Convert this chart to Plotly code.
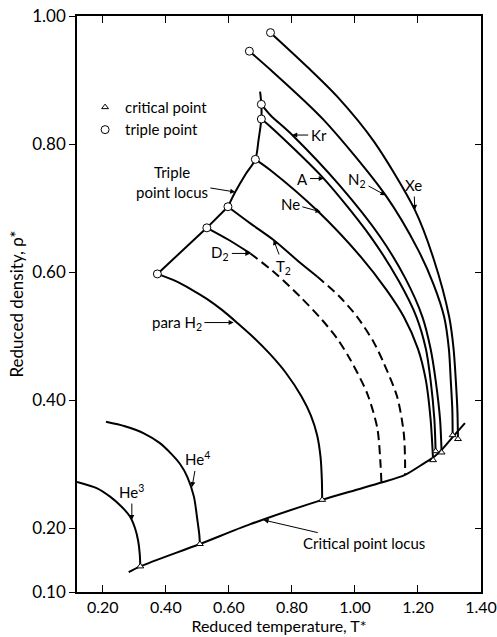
import plotly.graph_objects as go

# ---------------- data (reduced temperature T*, reduced density rho*) ----------------
he3_T = [0.118, 0.182, 0.223, 0.258, 0.286, 0.302, 0.312, 0.317, 0.319]
he3_rho = [0.272, 0.262, 0.249, 0.234, 0.218, 0.200, 0.180, 0.160, 0.140]

he4_T = [0.210, 0.270, 0.330, 0.380, 0.415, 0.445, 0.468, 0.489, 0.500, 0.506, 0.508]
he4_rho = [0.366, 0.359, 0.348, 0.333, 0.317, 0.300, 0.280, 0.249, 0.2125, 0.190, 0.175]

h2_T = [0.373, 0.430, 0.480, 0.530, 0.580, 0.630, 0.680, 0.730, 0.780, 0.830, 0.860, 0.880, 0.891, 0.895, 0.896]
h2_rho = [0.597, 0.586, 0.573, 0.558, 0.540, 0.519, 0.497, 0.472, 0.443, 0.406, 0.376, 0.345, 0.310, 0.275, 0.244]

d2_solid_T = [0.530, 0.600, 0.668]
d2_solid_rho = [0.669, 0.650, 0.629]
d2_dash_T = [0.668, 0.750, 0.827, 0.896, 0.945, 0.986, 1.039, 1.071, 1.081, 1.084]
d2_dash_rho = [0.629, 0.597, 0.561, 0.525, 0.495, 0.4625, 0.410, 0.356, 0.301, 0.271]

t2_solid_T = [0.597, 0.668, 0.742, 0.827, 0.880]
t2_solid_rho = [0.702, 0.676, 0.650, 0.614, 0.593]
t2_dash_T = [0.880, 0.950, 1.007, 1.060, 1.092, 1.134, 1.155, 1.159, 1.159]
t2_dash_rho = [0.593, 0.562, 0.530, 0.490, 0.457, 0.405, 0.348, 0.306, 0.283]

ne_T = [0.684, 0.732, 0.880, 1.018, 1.100, 1.155, 1.200, 1.225, 1.240, 1.248]
ne_rho = [0.776, 0.759, 0.696, 0.624, 0.572, 0.530, 0.480, 0.431, 0.370, 0.306]

ar_T = [0.703, 0.732, 0.901, 1.050, 1.140, 1.195, 1.225, 1.240, 1.252, 1.256]
ar_rho = [0.839, 0.827, 0.746, 0.655, 0.585, 0.530, 0.480, 0.431, 0.370, 0.320]

kr_T = [0.703, 0.732, 0.801, 0.950, 1.080, 1.160, 1.214, 1.240, 1.256, 1.270, 1.275]
kr_rho = [0.862, 0.845, 0.814, 0.736, 0.655, 0.590, 0.530, 0.480, 0.431, 0.370, 0.318]

n2_T = [0.665, 0.732, 0.900, 1.097, 1.200, 1.250, 1.283, 1.298, 1.304, 1.309, 1.310]
n2_rho = [0.945, 0.916, 0.838, 0.720, 0.635, 0.580, 0.530, 0.480, 0.431, 0.385, 0.345]

xe_T = [0.732, 0.850, 0.944, 1.060, 1.190, 1.250, 1.299, 1.313, 1.320, 1.325, 1.327]
xe_rho = [0.974, 0.920, 0.874, 0.804, 0.697, 0.620, 0.530, 0.480, 0.431, 0.385, 0.339]

triple_lin_T = [0.373, 0.530, 0.597]
triple_lin_rho = [0.597, 0.669, 0.702]
triple_curve_T = [0.597, 0.620, 0.652, 0.684, 0.694, 0.703, 0.703, 0.699]
triple_curve_rho = [0.702, 0.725, 0.752, 0.776, 0.806, 0.839, 0.862, 0.882]

crit_locus_T = [0.282, 0.319, 0.508, 0.668, 0.896, 1.000, 1.084, 1.159, 1.219, 1.248, 1.275, 1.310, 1.349]
crit_locus_rho = [0.131, 0.140, 0.175, 0.206, 0.244, 0.259, 0.271, 0.283, 0.301, 0.310, 0.322, 0.342, 0.364]

# critical points (triangles) and triple points (circles)
crit_T = [0.319, 0.508, 0.896, 1.248, 1.256, 1.275, 1.310, 1.327]
crit_rho = [0.140, 0.175, 0.244, 0.306, 0.320, 0.318, 0.345, 0.339]
trip_T = [0.373, 0.530, 0.597, 0.684, 0.703, 0.703, 0.665, 0.732]
trip_rho = [0.597, 0.669, 0.702, 0.776, 0.839, 0.862, 0.945, 0.974]

x_ticks = [0.2, 0.4, 0.6, 0.8, 1.0, 1.2, 1.4]
x_ticktext = ["0.20", "0.40", "0.60", "0.80", "1.00", "1.20", "1.40"]
y_ticks = [0.1, 0.2, 0.4, 0.6, 0.8, 1.0]
y_ticktext = ["0.10", "0.20", "0.40", "0.60", "0.80", "1.00"]

# labels: (text, text_T, text_rho, tip_T, tip_rho)
labels = [
    ("Kr", 0.885, 0.814, 0.801, 0.814),
    ("A", 0.832, 0.746, 0.901, 0.746),
    ("N<sub>2</sub>", 1.007, 0.744, 1.097, 0.720),
    ("Xe", 1.187, 0.736, 1.190, 0.697),
    ("Ne", 0.795, 0.707, 0.891, 0.694),
    ("T<sub>2</sub>", 0.774, 0.608, 0.742, 0.650),
    ("D<sub>2</sub>", 0.573, 0.629, 0.668, 0.629),
    ("para H<sub>2</sub>", 0.435, 0.521, 0.615, 0.521),
    ("Triple<br>point locus", 0.419, 0.741, 0.620, 0.725),
    ("He<sup>3</sup>", 0.292, 0.257, 0.292, 0.2125),
    ("He<sup>4</sup>", 0.499, 0.308, 0.483, 0.264),
    ("Critical point locus", 1.028, 0.176, 0.710, 0.2125),
]

FONT = "Lato"
fig = go.Figure()

def curve(T, rho, dash="solid", shape="spline"):
    fig.add_trace(go.Scatter(x=T, y=rho, mode="lines", showlegend=False, hoverinfo="skip",
                             line=dict(color="black", width=2, dash=dash, shape=shape, smoothing=0.8)))

curve(he3_T, he3_rho)
curve(he4_T, he4_rho)
curve(h2_T, h2_rho)
curve(d2_solid_T, d2_solid_rho)
curve(d2_dash_T, d2_dash_rho, dash="9px,5px")
curve(t2_solid_T, t2_solid_rho)
curve(t2_dash_T, t2_dash_rho, dash="9px,5px")
curve(ne_T, ne_rho)
curve(ar_T, ar_rho)
curve(kr_T, kr_rho)
curve(n2_T, n2_rho)
curve(xe_T, xe_rho)
curve(triple_lin_T, triple_lin_rho, shape="linear")
curve(triple_curve_T, triple_curve_rho)
curve(crit_locus_T, crit_locus_rho)

fig.add_trace(go.Scatter(x=crit_T, y=crit_rho, mode="markers", name="critical point",
                         marker=dict(symbol="triangle-up", size=6, color="white",
                                     line=dict(color="black", width=1))))
fig.add_trace(go.Scatter(x=trip_T, y=trip_rho, mode="markers", name="triple point",
                         marker=dict(symbol="circle", size=8, color="white",
                                     line=dict(color="black", width=1))))

for text, tx, ty, px, py in labels:
    fig.add_annotation(x=px, y=py, ax=tx, ay=ty, xref="x", yref="y", axref="x", ayref="y",
                       text=text, showarrow=True, arrowhead=2, arrowsize=1, arrowwidth=1,
                       arrowcolor="black", standoff=0, startstandoff=1,
                       font=dict(family=FONT, size=15, color="black"), align="center")

fig.add_trace(go.Scatter(x=[None], y=[None], yaxis="y2", showlegend=False))

fig.update_layout(
    width=497, height=637,
    margin=dict(l=77, r=16, t=16, b=45, autoexpand=False),
    paper_bgcolor="white", plot_bgcolor="white",
    font=dict(family=FONT, size=16, color="black"),
    showlegend=True,
    legend=dict(x=0.02, y=0.87, xanchor="left", yanchor="top", bgcolor="rgba(0,0,0,0)",
                font=dict(family=FONT, size=15, color="black"), itemwidth=30,
                tracegroupgap=0),
    xaxis=dict(range=[0.118, 1.40], tickvals=x_ticks, ticktext=x_ticktext, automargin=False,
               ticklabeloverflow="allow",
               ticks="inside", ticklen=7, tickcolor="black", showgrid=False, zeroline=False,
               showline=True, linecolor="black", linewidth=1.5, mirror="ticks",
               tickfont=dict(family=FONT, size=16),
               title=dict(text="Reduced temperature, T*", standoff=4,
                          font=dict(family=FONT, size=16))),
    yaxis=dict(range=[0.10, 1.00], tickvals=y_ticks, ticktext=y_ticktext, automargin=False,
               ticklabeloverflow="allow",
               ticks="outside", ticklen=6, tickcolor="black", showgrid=False, zeroline=False,
               showline=True, linecolor="black", linewidth=1.5, mirror=True,
               tickfont=dict(family=FONT, size=17),
               title=dict(text="Reduced density, ρ*", standoff=4,
                          font=dict(family=FONT, size=17))),
    yaxis2=dict(range=[0.10, 1.00], overlaying="y", side="right", tickvals=y_ticks,
                automargin=False,
                ticks="inside", ticklen=6, tickcolor="black", showticklabels=False,
                showgrid=False, zeroline=False, showline=False),
)

# remove the browser's default 8px body margin so the 497x637 figure fills the window exactly
fig.write_html("out.html", config={"displayModeBar": False},
               post_script="document.body.style.margin='0px';document.body.style.overflow='hidden';")
